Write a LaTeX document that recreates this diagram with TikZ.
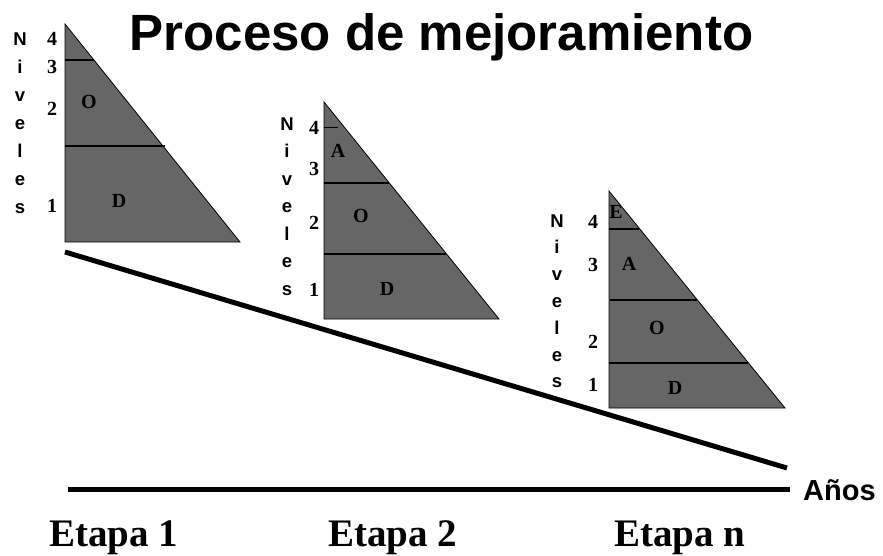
\documentclass[tikz,border=0pt]{standalone}
\usepackage{fontspec}
\setmainfont{Liberation Serif}
\newfontfamily\arialf{Liberation Sans}
\begin{document}
\begin{tikzpicture}[x=1pt,y=-1pt,
  tri/.style={fill=black!60,draw=black,line width=0.8pt},
  sect/.style={line width=2.6pt},
  thinsect/.style={line width=0.8pt},
  niv/.style={inner sep=0pt,anchor=base,font=\arialf\bfseries\fontsize{18.5}{18.5}\selectfont},
  lvl/.style={inner sep=0pt,anchor=base,font=\bfseries\fontsize{20}{20}\selectfont},
  ttl/.style={inner sep=0pt,anchor=base,font=\arialf\bfseries\fontsize{51}{51}\selectfont},
  etapa/.style={inner sep=0pt,anchor=base,font=\bfseries\fontsize{39}{39}\selectfont},
  axis/.style={line width=5pt}]
\useasboundingbox (0,0) rectangle (883,555);
% title
\node[ttl] (title) at (441.5,50) {Proceso de mejoramiento};
% triangle 1
\draw[tri] (65,24) -- (65,242) -- (240,242) -- cycle;
\draw[sect] (65,60) -- (94,60);
\draw[sect] (65,146) -- (165,146);
\foreach \c [count=\i from 0] in {N,i,v,e,l,e,s}
  \node[niv] (na\i) at (20,45+28*\i) {\c};
\node[lvl] (a4) at (52,45) {4};
\node[lvl] (a3) at (52,73) {3};
\node[lvl] (a2) at (52,115) {2};
\node[lvl] (a1) at (52,212) {1};
\node[lvl] (aO) at (89,108) {O};
\node[lvl] (aD) at (119,207) {D};
% triangle 2
\draw[tri] (324,102) -- (324,319) -- (499,319) -- cycle;
\draw[thinsect] (324,127) -- (338,127);
\draw[sect] (324,183) -- (389,183);
\draw[sect] (324,254) -- (446,254);
\foreach \c [count=\i from 0] in {N,i,v,e,l,e,s}
  \node[niv] (nb\i) at (287,130+27.5*\i) {\c};
\node[lvl] (b4) at (314,134) {4};
\node[lvl] (b3) at (314,175) {3};
\node[lvl] (b2) at (314,229) {2};
\node[lvl] (b1) at (314,296) {1};
\node[lvl] (bA) at (338,157) {A};
\node[lvl] (bO) at (361,222) {O};
\node[lvl] (bD) at (387,295) {D};
% triangle 3
\draw[tri] (609,191) -- (609,408) -- (785,408) -- cycle;
\draw[sect] (609,229) -- (639,229);
\draw[sect] (610,300) -- (697,300);
\draw[sect] (609,363) -- (748,363);
\foreach \c [count=\i from 0] in {N,i,v,e,l,e,s}
  \node[niv] (nc\i) at (557,227+26.8*\i) {\c};
\node[lvl] (c4) at (593,228) {4};
\node[lvl] (c3) at (593,271) {3};
\node[lvl] (c2) at (593,348) {2};
\node[lvl] (c1) at (593,391) {1};
\node[lvl] (cE) at (616,218) {E};
\node[lvl] (cA) at (629,270) {A};
\node[lvl] (cO) at (657,334) {O};
\node[lvl] (cD) at (675,394) {D};
% axes
\coordinate (d1) at (65,252);
\coordinate (d2) at (787,468);
\coordinate (h1) at (68,489);
\coordinate (h2) at (790,489);
\draw[axis] (d1) -- (d2);
\draw[axis] (h1) -- (h2);
\node[inner sep=0pt,anchor=base west,font=\arialf\bfseries\fontsize{29}{29}\selectfont] (anos) at (803,500) {Años};
% stages
\node[etapa] (e1) at (113.5,546) {Etapa 1};
\node[etapa] (e2) at (392.5,546) {Etapa 2};
\node[etapa] (en) at (680,546) {Etapa n};
\end{tikzpicture}
\end{document}
